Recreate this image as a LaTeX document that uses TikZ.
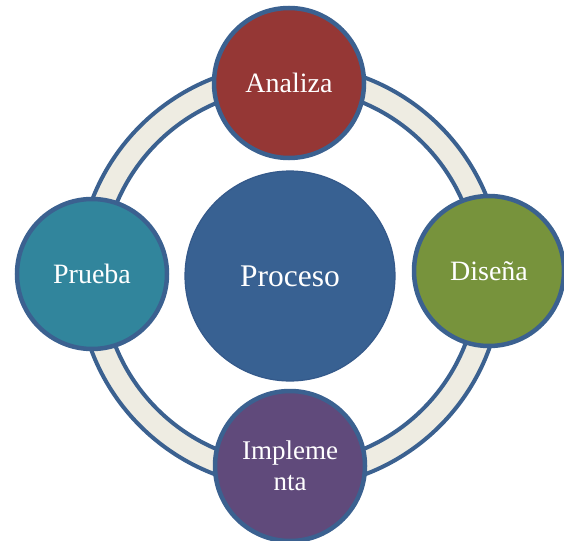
\documentclass[tikz,border=0pt]{standalone}
\usepackage{fontspec}
\setmainfont{Liberation Serif}
\definecolor{edgeblue}{HTML}{3B6190}
\definecolor{ringfill}{HTML}{EEECE2}
\definecolor{redfill}{HTML}{953735}
\definecolor{greenfill}{HTML}{77933C}
\definecolor{tealfill}{HTML}{31859C}
\definecolor{purplefill}{HTML}{604A7B}
\definecolor{corefill}{HTML}{386192}
\definecolor{coreedge}{HTML}{34598A}
\tikzset{
  stagecircle/.style={circle, draw=edgeblue, line width=4.5pt, minimum size=150pt, inner sep=0pt,
    text=white, font=\fontsize{28}{31}\selectfont, align=center},
  corecircle/.style={circle, draw=coreedge, line width=1.2pt, fill=corefill, minimum size=210pt, inner sep=0pt,
    text=white, font=\fontsize{31.5}{34}\selectfont},
  ringband/.style={draw=edgeblue, line width=4pt, fill=ringfill, even odd rule}
}
\begin{document}
\begin{tikzpicture}[x=1pt,y=-1pt]
\useasboundingbox (0,0) rectangle (564,540);
\clip (0,0) rectangle (564,540);
\coordinate (ringc) at (290,276);
\path[ringband] (ringc) circle[radius=212] (ringc) circle[radius=188];
\node[corecircle] (proceso) at (290,276) {Proceso};
\node[stagecircle, fill=redfill] (analiza) at (289,83) {Analiza};
\node[stagecircle, fill=greenfill] (disena) at (489,271) {Diseña};
\node[stagecircle, fill=tealfill] (prueba) at (92,274) {Prueba};
\node[stagecircle, fill=purplefill, font=\fontsize{27}{31}\selectfont] (implementa) at (290,466) {Impleme\\nta};
\end{tikzpicture}
\end{document}
